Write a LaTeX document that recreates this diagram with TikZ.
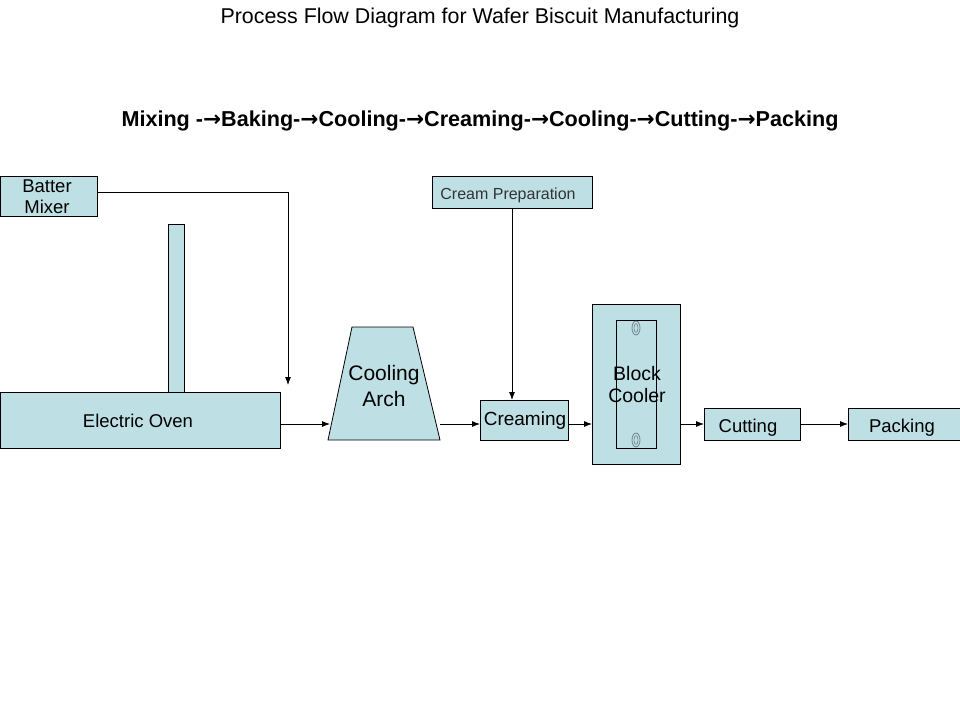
\documentclass[tikz,border=0pt]{standalone}
\usepackage{fontspec}
\setmainfont{Liberation Sans}
\newfontfamily\symfont{DejaVu Sans}
\usetikzlibrary{arrows.meta}
\definecolor{boxfill}{RGB}{190,224,228}
\definecolor{ringcol}{RGB}{110,130,140}
\tikzset{
  box/.style={draw=black, fill=boxfill, line width=0.8pt},
  conn/.style={draw=black, line width=0.8pt, -{Latex[length=8pt,width=6pt]}},
  plain/.style={draw=black, line width=0.8pt},
  lbl/.style={font=\fontsize{18.5}{21}\selectfont, align=center, inner sep=0pt},
}
\newcommand{\arr}{{\symfont\bfseries →}}
\begin{document}
\begin{tikzpicture}[x=1pt,y=-1pt]
\useasboundingbox (0,0) rectangle (960,720);
% title
\node[inner sep=0pt, font=\fontsize{21.4}{23}\selectfont] (title) at (480,18) {Process Flow Diagram for Wafer Biscuit Manufacturing};
\node[inner sep=0pt, font=\fontsize{21.6}{23}\selectfont\bfseries] (seq) at (480,121) {Mixing -\arr Baking-\arr Cooling-\arr Creaming-\arr Cooling-\arr Cutting-\arr Packing};
% batter mixer
\path[box] (0,176) rectangle (97,216);
\node[lbl, font=\fontsize{18.5}{21}\selectfont] (mixer) at (47,197) {Batter\\Mixer};
\coordinate (mixR) at (97,192);
\coordinate (mixC) at (288,192);
\coordinate (ovenIn) at (288,385);
\draw[conn] (mixR) -- (mixC) -- (ovenIn);
% chimney
\path[box] (168,224) rectangle (184,392);
% oven
\path[box] (0,392) rectangle (280,448);
\node[lbl] (oven) at (138,421) {Electric Oven};
% cooling arch
\path[box] (352,327) -- (413,327) -- (440,440) -- (328,440) -- cycle;
\node[lbl, font=\fontsize{21}{26}\selectfont] (arch) at (384,386) {Cooling\\Arch};
\coordinate (ovenR) at (280,424);
\coordinate (archL) at (330,424);
\draw[conn] (ovenR) -- (archL);
% creaming
\path[box] (480,400) rectangle (568,440);
\node[lbl, font=\fontsize{19}{21}\selectfont] (cream) at (525,421) {Creaming};
\coordinate (archR) at (440,424);
\coordinate (creamL) at (480,424);
\draw[conn] (archR) -- (creamL);
% cream preparation
\path[box] (432,176) rectangle (592,208);
\node[inner sep=0pt, font=\fontsize{16}{18}\selectfont, text=black!80] (prep) at (508,195) {Cream Preparation};
\coordinate (prepB) at (512,208);
\coordinate (creamT) at (512,400);
\draw[conn] (prepB) -- (creamT);
% block cooler
\path[box] (592,304) rectangle (680,464);
\path[plain] (616,320) rectangle (656,448);
\foreach \yy in {328,440}{
  \draw[ringcol, line width=0.8pt] (636,\yy) ellipse (4pt and 7pt);
  \draw[ringcol, line width=0.6pt] (636,\yy) ellipse (2pt and 4.5pt);
}
\node[lbl, font=\fontsize{19.5}{22}\selectfont] (cooler) at (637,385) {Block\\Cooler};
\coordinate (creamR) at (568,424);
\coordinate (coolL) at (592,424);
\draw[conn] (creamR) -- (coolL);
% cutting
\path[box] (704,408) rectangle (800,440);
\node[lbl] (cut) at (748,428) {Cutting};
\coordinate (coolR) at (680,424);
\coordinate (cutL) at (704,424);
\draw[conn] (coolR) -- (cutL);
% packing
\path[box] (848,408) rectangle (960,440);
\node[lbl] (pack) at (902,428) {Packing};
\coordinate (cutR) at (800,424);
\coordinate (packL) at (848,424);
\draw[conn] (cutR) -- (packL);
\end{tikzpicture}
\end{document}
